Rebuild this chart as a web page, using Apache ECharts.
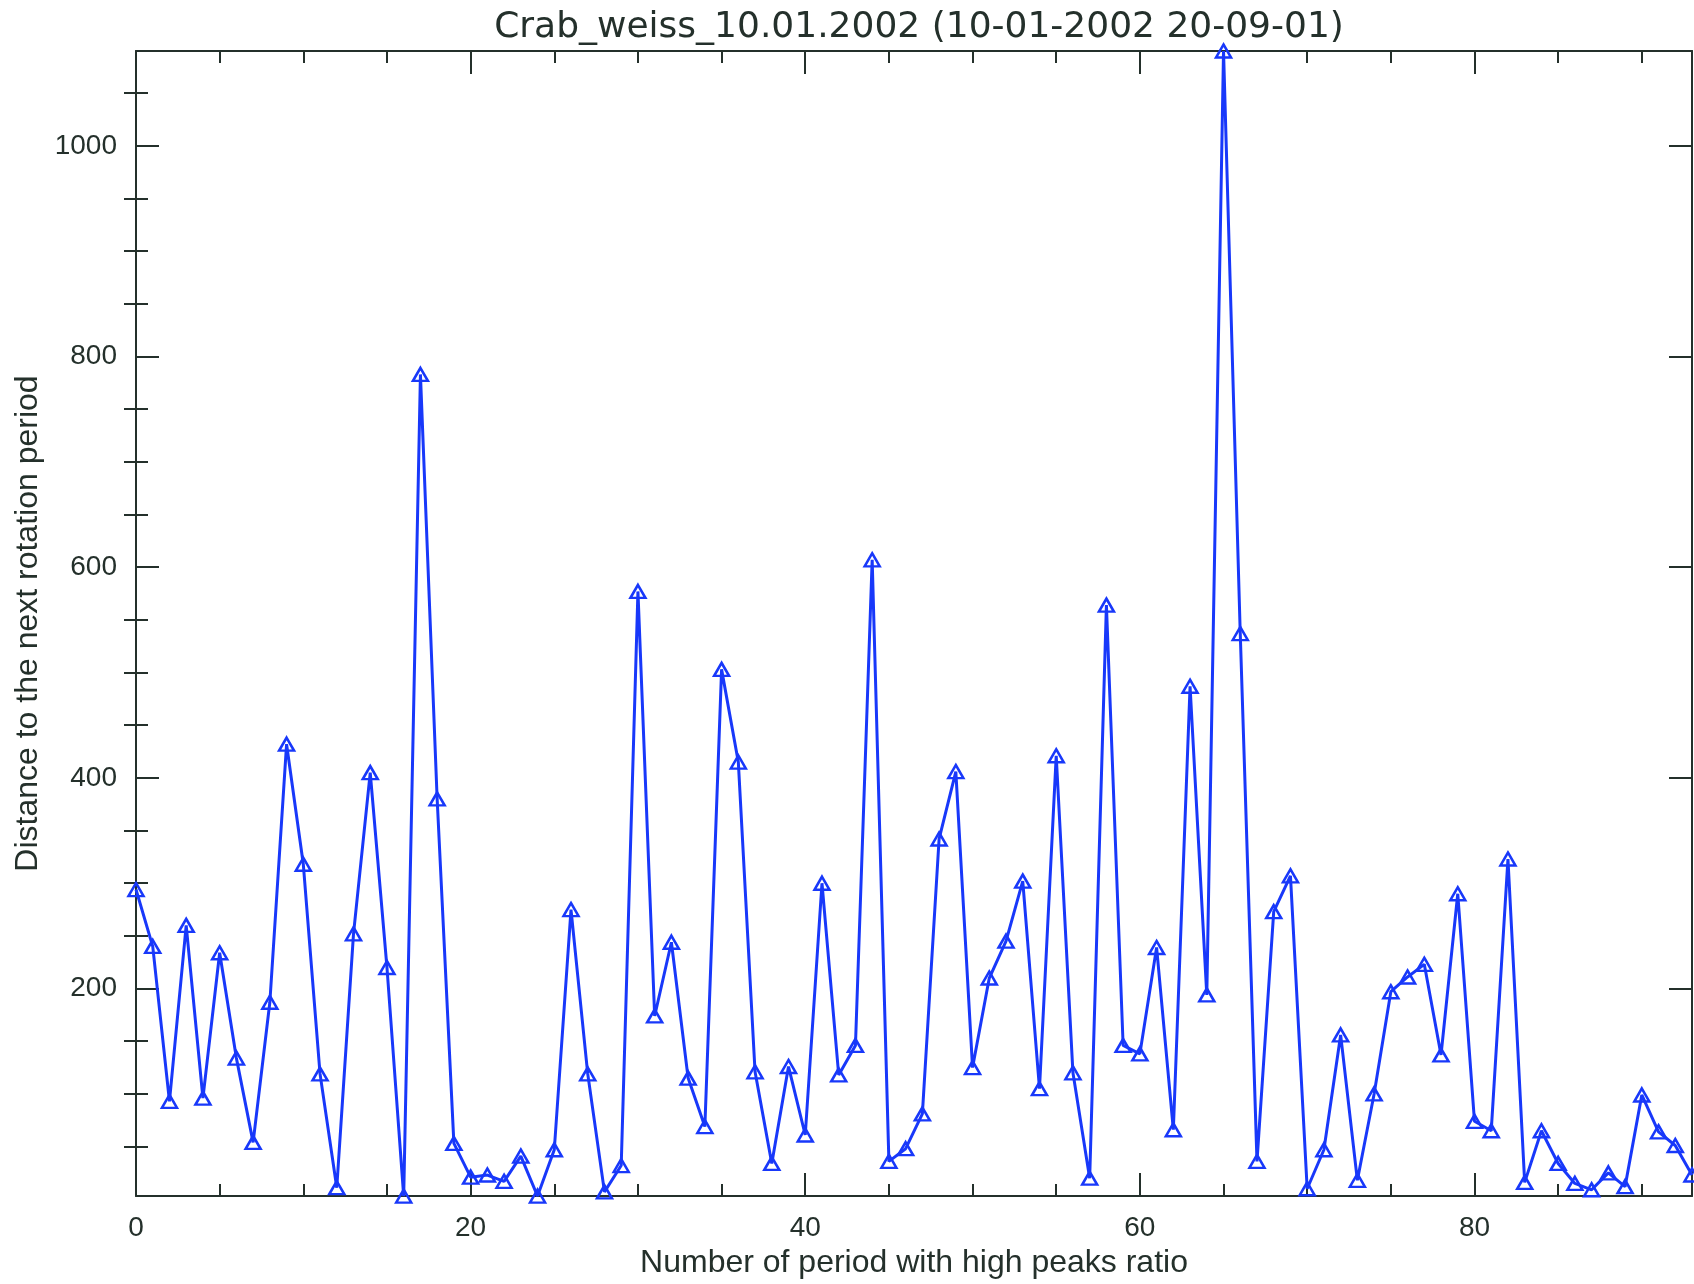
<!DOCTYPE html>
<html>
<head>
<meta charset="utf-8">
<script src="https://cdn.jsdelivr.net/npm/echarts@6/dist/echarts.min.js"></script>
<style>
  html, body { margin: 0; padding: 0; background: #ffffff; }
  #chart { width: 1694px; height: 1284px; }
</style>
</head>
<body>
<div id="chart"></div>
<script>
// Text
const titleText = 'Crab_weiss_10.01.2002 (10-01-2002 20-09-01)';
const xName = 'Number of period with high peaks ratio';
const yName = 'Distance to the next rotation period';

// Distance to the next rotation period, one value per period index 0..93
const distance = [
  294, 240, 93, 260, 96, 234, 134, 54, 187, 432,
  318, 119, 11, 252, 405, 220, 3, 783, 380, 53,
  21, 23, 17, 41, 3, 47, 275, 119, 7, 32,
  577, 174, 244, 115, 69, 503, 415, 121, 34, 126,
  61, 300, 118, 146, 607, 36, 48, 81, 342, 406,
  125, 210, 245, 302, 105, 421, 120, 20, 564, 146,
  138, 239, 66, 487, 194, 1090, 537, 36, 273, 307,
  10, 47, 156, 18, 100, 197, 211, 223, 137, 290,
  74, 65, 323, 16, 65, 34, 15, 9, 25, 12,
  99, 64, 51, 23
];

// Tick positions
const xMajorTicks = [0, 20, 40, 60, 80];
const xMinorTicks = [5, 10, 15, 25, 30, 35, 45, 50, 55, 65, 70, 75, 85, 90];
const yMajorTicks = [200, 400, 600, 800, 1000];
const yMinorTicks = [50, 100, 150, 250, 300, 350, 450, 500, 550, 650, 700, 750, 850, 900, 950, 1050];

const lineBlue = '#1838fa';
const ink = '#24302b';
const labelFont = '"Liberation Sans", Arial, sans-serif';
const titleFont = '"DejaVu Sans", "Liberation Sans", sans-serif';

const xMin = 0;
const xMax = distance.length - 1;
const yMin = Math.min(...distance);
const yMax = Math.max(...distance);

const points = distance.map((v, i) => [i, v]);

function xAxisDef(position, ticks, tickLen, opts) {
  return Object.assign({
    type: 'value',
    position: position,
    min: xMin,
    max: xMax,
    axisLine: { show: true, onZero: false, lineStyle: { color: ink, width: 2 } },
    axisTick: { show: true, inside: true, length: tickLen, customValues: ticks, lineStyle: { color: ink, width: 2 } },
    axisLabel: { show: false },
    splitLine: { show: false }
  }, opts || {});
}

function yAxisDef(position, ticks, tickLen, opts) {
  return Object.assign({
    type: 'value',
    position: position,
    min: yMin,
    max: yMax,
    axisLine: { show: true, onZero: false, lineStyle: { color: ink, width: 2 } },
    axisTick: { show: true, inside: true, length: tickLen, customValues: ticks, lineStyle: { color: ink, width: 2 } },
    axisLabel: { show: false },
    splitLine: { show: false }
  }, opts || {});
}

const chart = echarts.init(document.getElementById('chart'), null, { renderer: 'canvas' });

chart.setOption({
  animation: false,
  backgroundColor: '#ffffff',
  title: {
    text: titleText,
    left: 914,
    top: 5,
    textAlign: 'center',
    textStyle: { fontFamily: titleFont, fontSize: 36, fontWeight: 'normal', color: ink }
  },
  grid: { left: 136, right: 2, top: 51, bottom: 85, containLabel: false },
  xAxis: [
    xAxisDef('bottom', xMajorTicks, 23, {
      axisLabel: { show: true, customValues: xMajorTicks, margin: 18, fontFamily: labelFont, fontSize: 28, color: ink },
      name: xName,
      nameLocation: 'middle',
      nameGap: 47,
      nameTextStyle: { fontFamily: labelFont, fontSize: 32, color: ink }
    }),
    xAxisDef('bottom', xMinorTicks, 12, { axisLine: { show: false } }),
    xAxisDef('top', xMajorTicks, 23),
    xAxisDef('top', xMinorTicks, 12, { axisLine: { show: false } })
  ],
  yAxis: [
    yAxisDef('left', yMajorTicks, 23, {
      axisLabel: { show: true, customValues: yMajorTicks, margin: 19, fontFamily: labelFont, fontSize: 28, color: ink,
                   formatter: (v) => String(v) },
      name: yName,
      nameLocation: 'middle',
      nameGap: 92,
      nameTextStyle: { fontFamily: labelFont, fontSize: 32, color: ink }
    }),
    yAxisDef('left', yMinorTicks, 12, { axisLine: { show: false } }),
    yAxisDef('right', yMajorTicks, 23),
    yAxisDef('right', yMinorTicks, 12, { axisLine: { show: false } })
  ],
  series: [{
    type: 'line',
    xAxisIndex: 0,
    yAxisIndex: 0,
    data: points,
    symbol: 'triangle',
    symbolSize: [15, 13],
    showSymbol: true,
    showAllSymbol: true,
    clip: false,
    lineStyle: { color: lineBlue, width: 3 },
    itemStyle: { color: 'rgba(255,255,255,0)', borderColor: lineBlue, borderWidth: 2.5 }
  }]
});
</script>
</body>
</html>
